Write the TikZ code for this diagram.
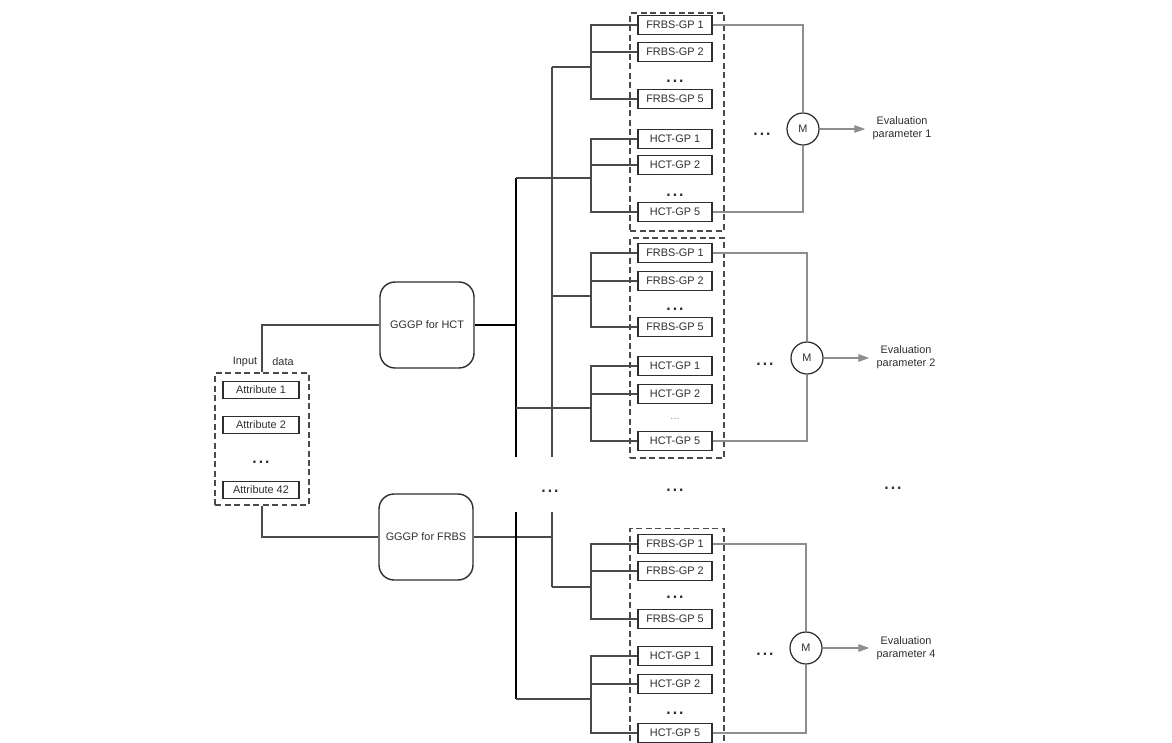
\documentclass[tikz,border=0pt]{standalone}
\usepackage{fontspec}
\setmainfont{Liberation Sans}
\usepackage{tikz}
\usetikzlibrary{arrows.meta,positioning}
\definecolor{ink}{HTML}{2E2E2E}
\definecolor{wire}{HTML}{4A4A4A}
\definecolor{pale}{HTML}{8E8E8E}

\begin{document}
\begin{tikzpicture}[
  x=0.02cm, y=-0.02cm,
  font=\fontsize{6.2}{7.4}\selectfont, text=ink,
  gp/.style={draw=ink,line width=0.8pt,minimum width=1.48cm,minimum height=0.39cm,inner sep=0pt},
  attr/.style={gp,minimum width=1.52cm,minimum height=0.35cm},
  grp/.style={draw=wire,dash pattern=on 1.2mm off 0.7mm,line width=0.8pt,minimum width=1.88cm,inner sep=0pt},
  gggp/.style={draw=ink,line width=0.8pt,rounded corners=3mm,minimum width=1.88cm,minimum height=1.72cm},
  mix/.style={draw=ink,circle,line width=0.7pt,minimum size=0.64cm,inner sep=0pt},
  more/.style={font=\fontsize{13}{13}\selectfont,inner sep=0pt,anchor=base},
  tree/.style={draw=wire,line width=0.7pt},
  bus/.style={draw=black,line width=0.8pt},
  fan/.style={draw=pale,line width=0.8pt},
  arr/.style={fan,-{Triangle[length=2.2mm,width=1.5mm]}}
]
\clip (0,0) rectangle (1172,743);

\node[grp,minimum height=2.64cm] (indata) at (262,439) {};
\node[attr] (attr1) at (261,390) {Attribute 1};
\node[attr] (attr2) at (261,425) {Attribute 2};
\node[more] (adots) at (261,463) {...};
\node[attr] (attr42) at (261,490) {Attribute 42};
\node (inlbl) at (245,362) {Input};
\node (dlbl) at (283,362) {data};

\node[gggp] (hct) at (427,325) {GGGP for HCT};
\node[gggp] (frbs) at (426,537) {GGGP for FRBS};

\node[grp,minimum height=4.36cm] (ga) at (677,122) {};
\node[gp] (fa1) at (675,25) {FRBS-GP 1};
\node[gp] (fa2) at (675,52) {FRBS-GP 2};
\node[more] (fadots) at (675,83) {...};
\node[gp] (fa5) at (675,99) {FRBS-GP 5};
\node[gp] (ha1) at (675,139) {HCT-GP 1};
\node[gp] (ha2) at (675,165) {HCT-GP 2};
\node[more] (hadots) at (675,196) {...};
\node[gp] (ha5) at (675,212) {HCT-GP 5};
\node[mix] (ma) at (803,129) {M};
\node[more] (mdotsa) at (762,136) {...};
\node[align=center,inner xsep=4pt] (ea) at (902,128) {Evaluation\\parameter 1};

\node[grp,minimum height=4.4cm] (gb) at (677,348) {};
\node[gp] (fb1) at (675,253) {FRBS-GP 1};
\node[gp] (fb2) at (675,281) {FRBS-GP 2};
\node[more] (fbdots) at (675,310) {...};
\node[gp] (fb5) at (675,327) {FRBS-GP 5};
\node[gp] (hb1) at (675,366) {HCT-GP 1};
\node[gp] (hb2) at (675,394) {HCT-GP 2};
\node[inner sep=0pt,anchor=base,text=pale] (hbdots) at (675,419) {...};
\node[gp] (hb5) at (675,441) {HCT-GP 5};
\node[mix] (mb) at (807,358) {M};
\node[more] (mdotsb) at (765,365) {...};
\node[align=center,inner xsep=4pt] (eb) at (906,357) {Evaluation\\parameter 2};

\node[grp,minimum height=4.46cm] (gc) at (677,640) {};
\node[gp] (fc1) at (675,544) {FRBS-GP 1};
\node[gp] (fc2) at (675,571) {FRBS-GP 2};
\node[more] (fcdots) at (675,598) {...};
\node[gp] (fc5) at (675,619) {FRBS-GP 5};
\node[gp] (hc1) at (675,656) {HCT-GP 1};
\node[gp] (hc2) at (675,684) {HCT-GP 2};
\node[more] (hcdots) at (675,714) {...};
\node[gp] (hc5) at (675,733) {HCT-GP 5};
\node[mix] (mc) at (806,648) {M};
\node[more] (mdotsc) at (765,655) {...};
\node[align=center,inner xsep=4pt] (ec) at (906,648) {Evaluation\\parameter 4};

\node[more] (busdots) at (550,492) {...};
\node[more] (grpdots) at (675,491) {...};
\node[more] (evdots) at (893,489) {...};

\coordinate (hx) at (516,0);
\coordinate (fx) at (552,0);
\coordinate (fsa) at (591,67);
\coordinate (hsa) at (591,178);
\coordinate (fsb) at (591,296);
\coordinate (hsb) at (591,408);
\coordinate (fsc) at (591,587);
\coordinate (hsc) at (591,699);
\coordinate (gaptop) at (0,457);
\coordinate (gapbot) at (0,512);

\draw[tree] (indata.north) |- (hct.west);
\draw[tree] (indata.south) |- (frbs.west);
\draw[bus] (hct.east) -- (hct.east -| hx);
\draw[tree] (frbs.east) -- (frbs.east -| fx);
\draw[bus] (hsa -| hx) -- (gaptop -| hx);
\draw[bus] (gapbot -| hx) -- (hsc -| hx);
\draw[tree] (fsa -| fx) -- (gaptop -| fx);
\draw[tree] (gapbot -| fx) -- (fsc -| fx);

\draw[tree] (fa1.west) -| (fsa) |- (fa5.west);
\draw[tree] (fa2.west) -- (fa2.west -| fsa);
\draw[tree] (fsa) -- (fsa -| fx);
\draw[tree] (ha1.west) -| (hsa) |- (ha5.west);
\draw[tree] (ha2.west) -- (ha2.west -| hsa);
\draw[tree] (hsa) -- (hsa -| hx);
\draw[fan] (fa1.east) -| (ma.north);
\draw[fan] (ha5.east) -| (ma.south);
\draw[arr] (ma.east) -- (ma.east -| ea.west);

\draw[tree] (fb1.west) -| (fsb) |- (fb5.west);
\draw[tree] (fb2.west) -- (fb2.west -| fsb);
\draw[tree] (fsb) -- (fsb -| fx);
\draw[tree] (hb1.west) -| (hsb) |- (hb5.west);
\draw[tree] (hb2.west) -- (hb2.west -| hsb);
\draw[tree] (hsb) -- (hsb -| hx);
\draw[fan] (fb1.east) -| (mb.north);
\draw[fan] (hb5.east) -| (mb.south);
\draw[arr] (mb.east) -- (mb.east -| eb.west);

\draw[tree] (fc1.west) -| (fsc) |- (fc5.west);
\draw[tree] (fc2.west) -- (fc2.west -| fsc);
\draw[tree] (fsc) -- (fsc -| fx);
\draw[tree] (hc1.west) -| (hsc) |- (hc5.west);
\draw[tree] (hc2.west) -- (hc2.west -| hsc);
\draw[tree] (hsc) -- (hsc -| hx);
\draw[fan] (fc1.east) -| (mc.north);
\draw[fan] (hc5.east) -| (mc.south);
\draw[arr] (mc.east) -- (mc.east -| ec.west);
\end{tikzpicture}
\end{document}
